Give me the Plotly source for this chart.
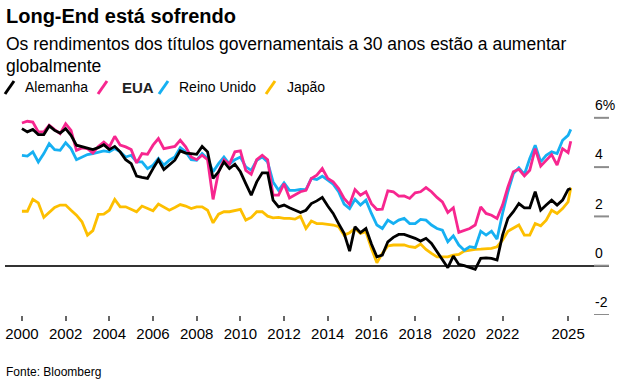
import plotly.graph_objects as go
import pandas as pd

# Quarterly 30-year government bond yields (%)
dates = list(pd.date_range("2000-01-01", periods=101, freq="QS")) + [pd.Timestamp("2025-02-15")]

alemanha = [5.56,5.43,5.53,5.32,5.32,5.67,5.49,5.38,5.56,5.29,4.89,4.84,4.79,4.71,4.79,4.91,4.71,4.84,4.62,4.30,4.14,3.64,3.58,3.54,3.94,4.30,
            3.90,4.08,4.28,4.66,4.57,4.55,4.52,4.84,4.62,3.54,3.81,4.21,3.94,4.12,3.81,3.33,2.86,3.40,3.77,3.77,2.66,2.39,2.46,2.35,2.25,2.16,
            2.25,2.52,2.63,2.77,2.42,2.12,1.71,1.31,0.59,1.58,1.34,1.51,0.88,0.36,0.43,0.97,1.15,1.27,1.27,1.20,1.11,1.00,1.11,0.90,0.57,
            0.30,-0.08,0.39,0.05,0.00,-0.08,-0.15,0.30,0.32,0.30,0.23,1.24,1.92,2.19,2.52,2.35,2.35,3.00,2.25,2.46,2.66,2.46,2.66,3.09,3.13]
eua = [5.79,5.86,5.83,5.43,5.43,5.70,5.52,5.36,5.76,5.49,4.68,4.78,4.75,4.57,4.84,5.02,4.82,5.25,4.89,4.82,4.71,4.17,4.55,4.52,4.89,5.16,
       4.75,4.79,4.84,5.09,4.82,4.41,4.30,4.48,4.30,2.69,3.81,4.30,4.12,4.62,4.66,3.87,3.71,4.30,4.48,4.30,2.86,2.86,3.33,2.75,2.86,3.00,
       3.06,3.54,3.67,3.94,3.54,3.40,3.13,2.73,2.48,3.09,2.86,3.00,2.52,2.28,2.29,3.04,3.00,2.82,2.83,2.73,2.96,3.00,3.17,3.00,2.77,
       2.59,2.16,2.35,1.35,1.44,1.51,1.65,2.39,2.12,2.05,1.92,2.46,3.20,3.81,3.91,3.64,3.87,4.75,4.04,4.28,4.51,4.08,4.75,4.59,5.05]
reino_unido = [4.48,4.45,4.62,4.21,4.55,4.95,4.71,4.68,4.99,4.75,4.30,4.41,4.51,4.55,4.62,4.66,4.62,4.75,4.62,4.41,4.48,4.21,4.21,3.94,4.08,4.35,
               4.08,4.28,4.41,4.79,4.62,4.30,4.28,4.55,4.35,3.81,4.14,4.41,4.12,4.30,4.41,4.01,3.87,4.28,4.41,4.21,3.40,3.06,3.36,3.06,3.06,3.10,
               3.09,3.54,3.50,3.63,3.47,3.31,3.00,2.50,2.32,2.69,2.46,2.66,2.12,1.65,1.51,1.85,1.71,1.85,1.92,1.71,1.71,1.88,1.85,1.65,1.51,
               1.44,0.97,1.21,0.84,0.63,0.77,0.73,1.40,1.24,1.40,1.08,2.12,3.00,3.74,3.97,3.70,4.35,4.89,4.21,4.48,4.62,4.55,5.09,5.29,5.53]
japao = [2.21,2.21,2.69,2.55,1.96,2.15,2.36,2.46,2.46,2.25,2.05,1.78,1.24,1.42,2.08,2.09,2.25,2.69,2.39,2.39,2.28,2.19,2.42,2.32,2.23,2.50,
         2.39,2.25,2.36,2.48,2.42,2.32,2.39,2.39,2.25,1.74,2.09,2.19,2.19,2.25,2.29,1.85,1.96,2.19,2.19,2.01,1.94,1.96,1.92,1.92,1.89,2.01,
         1.51,1.81,1.71,1.71,1.69,1.65,1.58,1.24,1.34,1.51,1.31,1.38,0.70,0.12,0.50,0.80,0.84,0.84,0.84,0.77,0.74,0.88,0.66,0.50,0.36,
         0.36,0.36,0.43,0.46,0.59,0.63,0.66,0.67,0.67,0.70,0.77,1.04,1.40,1.54,1.65,1.24,1.24,1.71,1.62,1.85,2.25,2.12,2.32,2.59,3.16]

x_tick_vals = ["2000-01-01","2002-01-01","2004-01-01","2006-01-01","2008-01-01","2010-01-01",
               "2012-01-01","2014-01-01","2016-01-01","2018-01-01","2020-01-01","2022-01-01","2025-01-01"]
x_tick_text = ["2000","2002","2004","2006","2008","2010","2012","2014","2016","2018","2020","2022","2025"]
y_tick_vals = [-2, 0, 2, 4, 6]
y_tick_text = ["-2", "0", "2", "4", "6%"]

colors = {"Alemanha": "#000000", "EUA": "#f7268f", "Reino Unido": "#16b0f2", "Japão": "#fdbf00"}

FONT = "Liberation Sans, Arial, sans-serif"
W, H = 625, 384
ML, MR, MT, MB = 5, 16, 105, 69
PW, PH = W - ML - MR, H - MT - MB

def px(xp):
    return (xp - ML) / PW

def py(yp):
    return (H - MB - yp) / PH

fig = go.Figure()
draw_order = [("Japão", japao), ("Reino Unido", reino_unido), ("EUA", eua), ("Alemanha", alemanha)]
for name, vals in draw_order:
    fig.add_trace(go.Scatter(x=dates, y=vals, name=name, mode="lines",
                             line=dict(color=colors[name], width=2.8), showlegend=False,
                             hoverinfo="skip"))

yrange = [-2.0, 6.52]
fig.update_layout(
    width=W, height=H,
    margin=dict(l=ML, r=MR, t=MT, b=MB),
    paper_bgcolor="white", plot_bgcolor="white",
    font=dict(family=FONT, color="#000"),
    xaxis=dict(type="date", range=["1999-03-24", "2026-11-16"],
               tickvals=x_tick_vals, ticktext=x_tick_text,
               ticks="outside", ticklen=5, tickwidth=1.5, tickcolor="#666",
               showgrid=False, showline=False, zeroline=False,
               tickfont=dict(size=15, color="#000"), ticklabelstandoff=0),
    yaxis=dict(range=yrange, side="right", anchor="free", position=px(594),
               tickvals=y_tick_vals, ticktext=y_tick_text,
               ticks="", ticklabelposition="outside top", ticklabelshift=-3,
               tickfont=dict(size=14, color="#000"),
               showgrid=False, showline=False,
               zeroline=True, zerolinecolor="#333", zerolinewidth=1.5),
)

ann = []
ann.append(dict(text="<b>Long-End está sofrendo</b>", x=px(4), y=py(16), xref="paper", yref="paper",
                xanchor="left", yanchor="middle", showarrow=False, font=dict(size=20, family=FONT, color="#000")))
ann.append(dict(text="Os rendimentos dos títulos governamentais a 30 anos estão a aumentar", x=px(4), y=py(44),
                xref="paper", yref="paper", xanchor="left", yanchor="middle", showarrow=False,
                font=dict(size=17.5, family=FONT, color="#000")))
ann.append(dict(text="globalmente", x=px(4), y=py(66), xref="paper", yref="paper",
                xanchor="left", yanchor="middle", showarrow=False, font=dict(size=17.5, family=FONT, color="#000")))
ann.append(dict(text="Fonte: Bloomberg", x=px(4), y=py(372), xref="paper", yref="paper",
                xanchor="left", yanchor="middle", showarrow=False, font=dict(size=12, family=FONT, color="#000")))

shapes = []
# short gray tick marks at the right-hand side, one per y tick value
for tv in y_tick_vals:
    shapes.append(dict(type="line", xref="paper", yref="y", x0=px(594), x1=px(609), y0=tv, y1=tv,
                       line=dict(color="#8c8c8c", width=2), layer="above"))

legend_items = [("Alemanha", 5, 23, 14, ""), ("EUA", 98, 120, 15, "b"), ("Reino Unido", 159, 177, 14, ""), ("Japão", 266, 285, 14, "")]
for name, sx, tx, fs, style in legend_items:
    shapes.append(dict(type="line", xref="paper", yref="paper", x0=px(sx), y0=py(94), x1=px(sx + 9), y1=py(81),
                       line=dict(color=colors[name], width=3)))
    label = f"<b>{name}</b>" if style == "b" else name
    ann.append(dict(text=label, x=px(tx), y=py(87), xref="paper", yref="paper", xanchor="left", yanchor="middle",
                    showarrow=False, font=dict(size=fs, family=FONT, color="#222" if style == "b" else "#000")))

fig.update_layout(annotations=ann, shapes=shapes)
fig.write_html("out.html", config={"displayModeBar": False},
               post_script="document.body.style.margin='0';document.body.style.overflow='hidden';")
